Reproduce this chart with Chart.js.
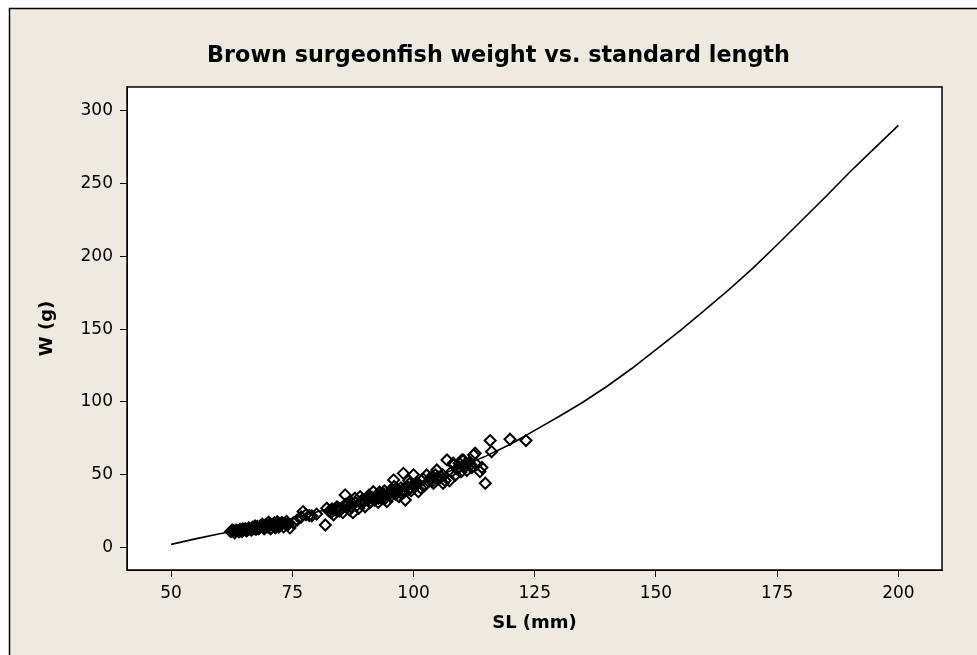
<!DOCTYPE html>
<html><head><meta charset="utf-8">
<script src="https://cdn.jsdelivr.net/npm/chart.js@4/dist/chart.umd.min.js"></script>
<style>html,body{margin:0;padding:0;background:#fff;overflow:hidden}</style>
</head><body>
<canvas id="c" width="977" height="655"></canvas>
<script>
const titleText = 'Brown surgeonfish weight vs. standard length';
const xTitle = 'SL (mm)';
const yTitle = 'W (g)';
const xTicks = [50, 75, 100, 125, 150, 175, 200];
const yTicks = [0, 50, 100, 150, 200, 250, 300];

// observed fish: standard length (mm) and weight (g)
const fishSL = [
  62.3,62.8,63.1,63.5,63.9,64.2,64.6,65.0,65.3,65.7,66.0,66.4,66.8,67.1,67.5,67.8,68.2,68.5,68.9,69.2,
  69.6,69.9,70.3,70.6,71.0,71.3,71.7,72.0,72.4,72.8,73.2,73.6,74.0,74.5,75.2,63.3,64.0,65.5,66.6,67.3,
  68.0,68.8,69.5,70.1,70.8,71.5,72.2,73.0,73.8,69.0,70.5,71.9,62.6,64.8,66.2,67.9,69.3,71.1,72.6,74.2,
  76.0,76.8,77.2,77.8,78.5,79.0,80.0,81.8,82.1,82.6,83.0,83.5,84.0,84.2,84.7,85.1,85.4,85.9,85.9,86.3,
  86.8,87.1,87.5,87.9,88.3,88.7,89.0,89.3,89.7,90.0,83.2,84.5,86.0,87.3,88.0,89.5,
  90.4,90.8,91.0,91.4,91.7,92.0,92.3,92.7,93.0,93.1,93.5,93.9,94.2,94.5,94.9,95.2,95.6,95.9,95.9,96.3,
  96.7,97.0,97.4,97.9,98.0,98.3,98.6,98.9,99.2,99.5,99.8,100.0,100.3,100.7,101.0,91.2,92.8,94.0,96.0,97.6,99.0,
  90.9,92.5,93.7,95.0,96.5,97.8,99.4,100.5,
  101.5,102.0,102.4,102.7,103.1,103.5,104.0,104.1,104.5,104.8,105.2,105.6,106.0,106.1,106.5,106.9,107.4,107.8,108.2,108.3,
  108.7,109.0,109.4,109.8,110.0,110.3,110.6,111.0,111.4,111.8,112.0,112.4,112.7,113.0,103.8,105.0,109.2,110.8,
  113.7,114.1,114.8,115.8,116.1,119.9,123.2
];
const fishW = [
  11.0,11.5,10.2,12.0,11.2,12.5,11.0,12.2,13.0,11.8,13.5,12.4,14.0,13.0,12.5,14.5,13.4,15.0,14.0,12.8,
  15.5,14.2,16.0,13.5,15.2,17.0,14.5,16.2,15.0,17.2,14.2,16.5,15.5,13.5,17.0,11.8,10.8,11.5,12.0,14.8,
  13.0,16.0,14.0,17.5,15.8,13.6,14.0,16.8,18.0,15.0,12.8,17.8,12.0,12.8,13.0,13.8,15.2,16.0,15.5,16.5,
  18.9,21.0,24.7,22.5,22.0,21.8,23.0,15.5,27.0,25.0,24.0,22.5,26.0,28.0,25.0,27.0,24.0,29.4,36.2,30.0,
  26.0,28.0,24.0,33.9,29.0,27.0,35.0,30.0,32.0,28.0,26.5,27.0,28.0,30.5,31.0,33.0,
  33.0,36.0,30.9,34.5,38.4,32.5,35.5,31.0,38.0,36.2,33.5,36.8,34.0,31.6,37.5,35.0,39.0,46.5,38.4,36.5,
  40.0,35.0,41.0,51.0,38.0,32.7,42.0,40.0,44.0,39.0,43.0,50.0,42.0,45.0,38.4,32.0,34.0,39.0,42.0,37.0,46.0,
  34.0,35.0,36.0,38.0,39.0,40.0,41.0,43.0,
  41.0,47.0,43.0,49.9,45.5,48.0,46.0,44.2,50.0,53.3,47.0,49.0,50.0,44.2,46.0,60.2,45.9,52.0,57.9,56.8,
  50.0,54.0,58.0,52.0,60.2,60.0,55.6,53.0,58.0,57.0,55.0,63.6,64.8,57.0,47.5,48.5,55.0,58.0,
  52.2,55.0,44.2,73.5,65.9,74.4,73.5
];

// fitted curve
const fitSL = [50,55,60,65,70,75,80,85,90,95,100,105,110,115,120,125,130,135,140,145,150,155,160,165,170,175,180,185,190,195,200];
const fitW  = [2.2,6,9.5,12.5,16,20,24.5,28.5,33,38,43,49,56,63,71,80.5,90,100,111,123,136,149,163,177,192,208,224.5,241,258,274,290];

const bgPlugin = {
  id: 'bg',
  beforeDraw(chart) {
    const ctx = chart.ctx, a = chart.chartArea;
    ctx.save();
    ctx.fillStyle = '#ffffff';
    ctx.fillRect(0, 0, chart.width, chart.height);
    ctx.fillStyle = '#EEEAE0';
    ctx.fillRect(9, 8, chart.width - 9, chart.height - 8);
    ctx.strokeStyle = '#000';
    ctx.lineWidth = 1.5;
    ctx.beginPath();
    ctx.moveTo(9.5, chart.height); ctx.lineTo(9.5, 8.5); ctx.lineTo(chart.width, 8.5);
    ctx.stroke();
    ctx.fillStyle = '#ffffff';
    ctx.fillRect(a.left, a.top, a.right - a.left, a.bottom - a.top);
    ctx.restore();
  },
  afterDraw(chart) {
    const ctx = chart.ctx, a = chart.chartArea;
    ctx.save();
    ctx.strokeStyle = '#000';
    ctx.lineWidth = 1.5;
    ctx.strokeRect(a.left, a.top, a.right - a.left, a.bottom - a.top);
    ctx.restore();
  }
};

const tickFont = { family: 'DejaVu Sans', size: 17 };
const labelFont = { family: 'DejaVu Sans', size: 18, weight: 'bold' };

new Chart(document.getElementById('c'), {
  type: 'scatter',
  data: {
    datasets: [
      {
        type: 'line',
        data: fitSL.map((x, i) => ({ x: x, y: fitW[i] })),
        borderColor: '#000',
        borderWidth: 1.6,
        pointRadius: 0,
        tension: 0,
        fill: false,
        order: 2
      },
      {
        type: 'scatter',
        data: fishSL.map((x, i) => ({ x: x, y: fishW[i] })),
        pointStyle: 'rectRot',
        pointRadius: 5.5,
        borderColor: '#000',
        borderWidth: 2,
        backgroundColor: 'rgba(0,0,0,0)',
        order: 1
      }
    ]
  },
  options: {
    responsive: false,
    animation: false,
    events: [],
    layout: { padding: { left: 20, right: 0, top: 0, bottom: 0 } },
    plugins: {
      legend: { display: false },
      tooltip: { enabled: false },
      title: {
        display: true,
        text: titleText,
        color: '#000',
        font: { family: 'DejaVu Sans', size: 22.3, weight: 'bold' },
        padding: { top: 43, bottom: 17.2 }
      }
    },
    scales: {
      x: {
        type: 'linear',
        position: 'bottom',
        min: 40.9,
        max: 209,
        afterBuildTicks: s => { s.ticks = xTicks.map(v => ({ value: v })); },
        afterFit: s => { s.height = 85; },
        ticks: { color: '#000', font: tickFont, padding: 6, maxRotation: 0, autoSkip: false },
        grid: { drawOnChartArea: false, drawTicks: true, tickLength: 7, tickColor: '#000', tickWidth: 1 },
        border: { display: true, color: '#000', width: 1 },
        title: { display: true, text: xTitle, color: '#000', font: labelFont, padding: { top: 0, bottom: 21 } }
      },
      y: {
        type: 'linear',
        position: 'left',
        min: -15.4,
        max: 316.4,
        afterBuildTicks: s => { s.ticks = yTicks.map(v => ({ value: v })); },
        afterFit: s => { s.width = 107; },
        ticks: { color: '#000', font: tickFont, padding: 7, autoSkip: false },
        grid: { drawOnChartArea: false, drawTicks: true, tickLength: 7, tickColor: '#000', tickWidth: 1 },
        border: { display: true, color: '#000', width: 1 },
        title: { display: true, text: yTitle, color: '#000', font: labelFont, padding: { top: 17, bottom: 0 } }
      },
      y2: {
        type: 'linear',
        position: 'right',
        display: true,
        afterFit: s => { s.width = 35; },
        ticks: { display: false },
        grid: { display: false },
        border: { display: false }
      }
    }
  },
  plugins: [bgPlugin]
});
</script>
</body></html>
